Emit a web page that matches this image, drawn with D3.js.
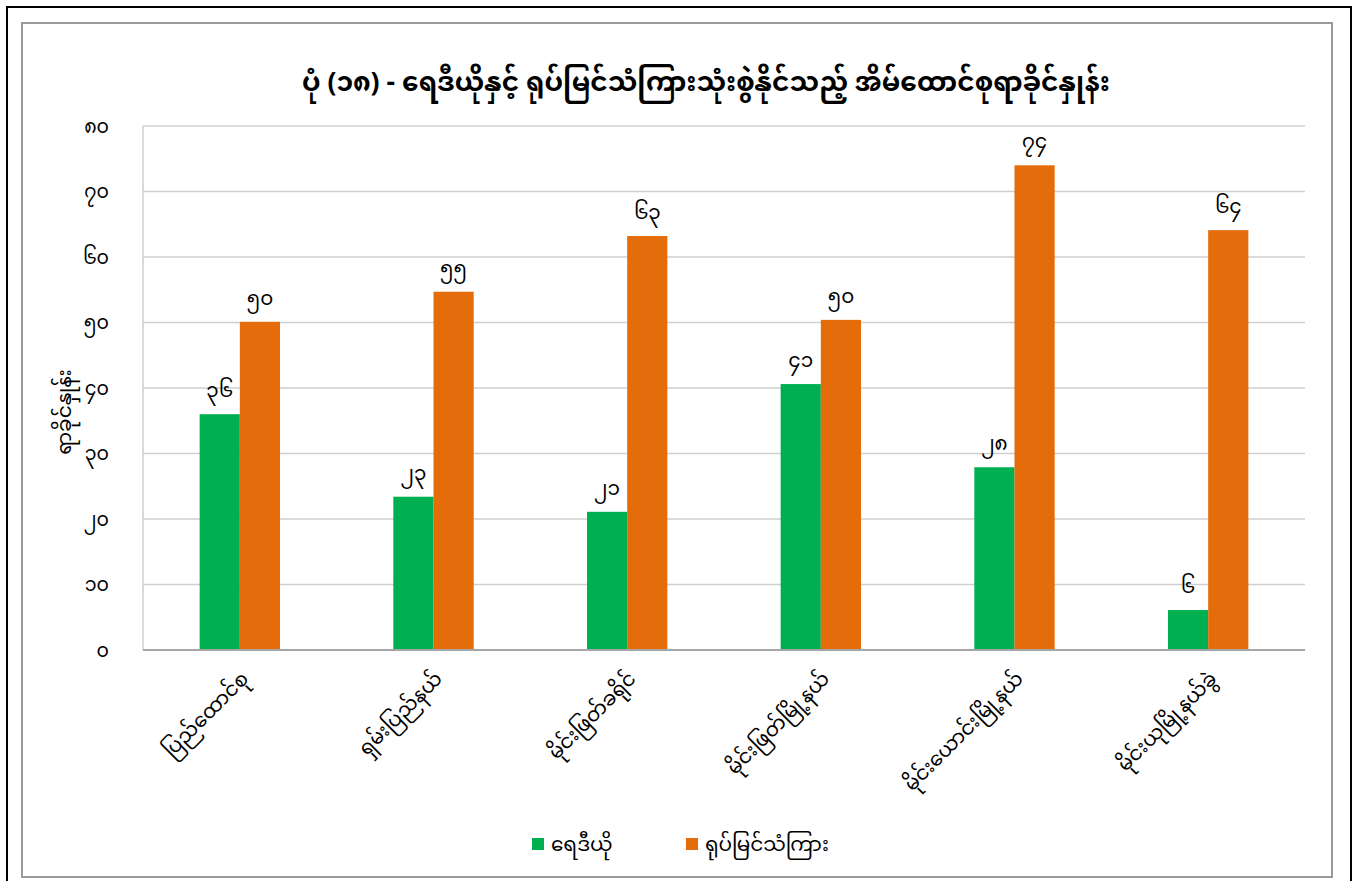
<!DOCTYPE html>
<html>
<head>
<meta charset="utf-8">
<script src="https://cdn.jsdelivr.net/npm/d3@7"></script>
<style>
  html, body { margin: 0; padding: 0; background: #fff; }
  svg text { font-family: "Myanmar Text", "Noto Sans Myanmar", "Padauk", "Noto Sans", sans-serif; fill: #000; }
</style>
</head>
<body>
<div class="canvas"></div>
<script>
const categories = ['ပြည်ထောင်စု', 'ရှမ်းပြည်နယ်', 'မိုင်းဖြတ်ခရိုင်', 'မိုင်းဖြတ်မြို့နယ်', 'မိုင်းယောင်းမြို့နယ်', 'မိုင်းယုမြို့နယ်ခွဲ']
const radio = [36.0, 23.4, 21.1, 40.6, 27.9, 6.1]
const television = [50.1, 54.7, 63.2, 50.4, 74.0, 64.1]
const seriesNames = ['ရေဒီယို', 'ရုပ်မြင်သံကြား']
const yTicks = [0, 10, 20, 30, 40, 50, 60, 70, 80]
const title = 'ပုံ (၁၈) - ရေဒီယိုနှင့် ရုပ်မြင်သံကြားသုံးစွဲနိုင်သည့် အိမ်ထောင်စုရာခိုင်နှုန်း'
const yTitle = 'ရာခိုင်နှုန်း'

const colours = ['#00B050', '#E46C0A']
const mmDigits = '၀၁၂၃၄၅၆၇၈၉'
const toMyanmar = n => String(n).replace(/[0-9]/g, d => mmDigits[+d])

const init = () => {
  const width = 1359
  const height = 881
  const plot = {left: 143, right: 1305, top: 126, bottom: 650}

  const svg = d3.select('.canvas')
    .append('svg')
    .attr('width', width)
    .attr('height', height)

  // frames
  svg.append('rect')
    .attr('x', 7).attr('y', 7)
    .attr('width', 1344).attr('height', 890)
    .attr('fill', 'none').attr('stroke', '#000').attr('stroke-width', 2)
  svg.append('rect')
    .attr('x', 22).attr('y', 23)
    .attr('width', 1310).attr('height', 854)
    .attr('fill', 'none').attr('stroke', '#9a9a9a').attr('stroke-width', 2)

  const x = d3.scaleBand()
    .domain(categories)
    .range([plot.left, plot.right])
    .paddingInner(0.585)
    .paddingOuter(0.2925)

  const xInner = d3.scaleBand()
    .domain([0, 1])
    .range([0, x.bandwidth()])

  const y = d3.scaleLinear()
    .domain([0, 80])
    .range([plot.bottom, plot.top])

  // gridlines
  svg.append('g')
    .selectAll('line')
    .data(yTicks.slice(1))
    .enter().append('line')
    .attr('x1', plot.left).attr('x2', plot.right)
    .attr('y1', d => y(d)).attr('y2', d => y(d))
    .attr('stroke', '#cfcfcf').attr('stroke-width', 1.5)

  svg.append('line')
    .attr('x1', plot.left).attr('x2', plot.left)
    .attr('y1', plot.top).attr('y2', plot.bottom)
    .attr('stroke', '#cfcfcf').attr('stroke-width', 1.5)

  // y axis
  const yAxis = svg.append('g')
    .attr('transform', `translate(${plot.left}, 0)`)
    .call(d3.axisLeft(y).tickValues(yTicks).tickSize(0).tickPadding(34).tickFormat(toMyanmar))
  yAxis.select('.domain').remove()
  yAxis.selectAll('text')
    .style('font-size', '19px')

  // bars
  const series = [radio, television]
  series.forEach((values, s) => {
    const g = svg.append('g')
    g.selectAll('rect')
      .data(values)
      .enter().append('rect')
      .attr('x', (d, i) => x(categories[i]) + xInner(s))
      .attr('width', xInner.bandwidth())
      .attr('y', d => y(d))
      .attr('height', d => y(0) - y(d))
      .attr('fill', colours[s])
    g.selectAll('text')
      .data(values)
      .enter().append('text')
      .attr('x', (d, i) => x(categories[i]) + xInner(s) + xInner.bandwidth() / 2)
      .attr('y', d => y(d) - 17)
      .attr('text-anchor', 'middle')
      .style('font-size', '20px')
      .text(d => toMyanmar(Math.round(d)))
  })

  // x axis
  const xAxis = svg.append('g')
    .attr('transform', `translate(0, ${plot.bottom})`)
    .call(d3.axisBottom(x).tickSize(0).tickFormat(''))
  xAxis.select('.domain')
    .attr('stroke', '#a6a6a6').attr('stroke-width', 2)
    .attr('d', `M${plot.left},0H${plot.right}`)

  svg.append('g')
    .selectAll('text')
    .data(categories)
    .enter().append('text')
    .attr('transform', d => `translate(${x(d) + x.bandwidth() / 2}, 670) rotate(-45)`)
    .attr('text-anchor', 'end')
    .attr('dy', '0.7em')
    .style('font-size', '20px')
    .text(d => d)

  // titles
  svg.append('text')
    .attr('x', 706).attr('y', 91)
    .attr('text-anchor', 'middle')
    .style('font-size', '26.5px')
    .style('font-weight', 'bold')
    .text(title)

  svg.append('text')
    .attr('transform', 'translate(71, 412) rotate(-90)')
    .attr('text-anchor', 'middle')
    .style('font-size', '20px')
    .text(yTitle)

  // legend
  const legendX = [532, 686]
  const legend = svg.append('g')
    .selectAll('g')
    .data(seriesNames)
    .enter().append('g')
    .attr('transform', (d, i) => `translate(${legendX[i]}, 838)`)
  legend.append('rect')
    .attr('width', 12).attr('height', 12)
    .attr('fill', (d, i) => colours[i])
  legend.append('text')
    .attr('x', 19).attr('y', 13)
    .style('font-size', '20px')
    .text(d => d)
}

init()
</script>
</body>
</html>
